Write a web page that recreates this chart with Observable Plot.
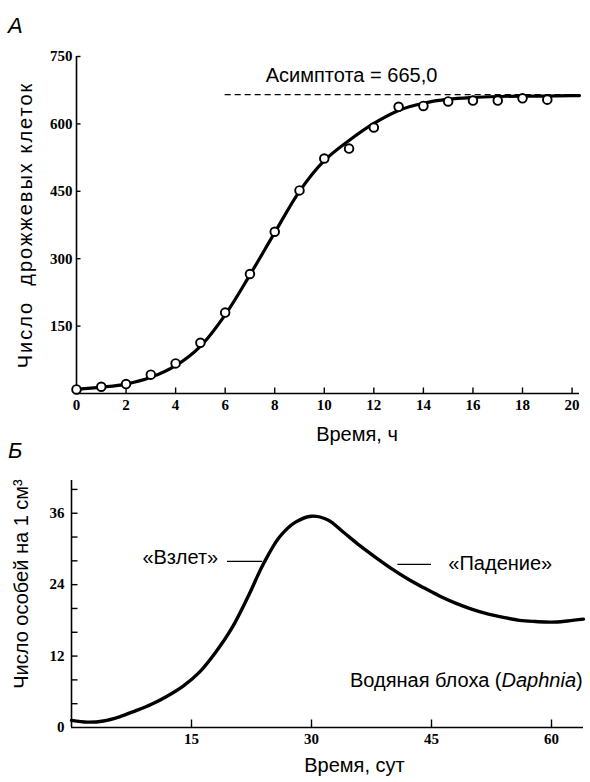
<!DOCTYPE html>
<html><head><meta charset="utf-8">
<script src="https://cdn.jsdelivr.net/npm/d3@7"></script>
<script src="https://cdn.jsdelivr.net/npm/@observablehq/plot@0.6"></script>
<style>
body{margin:0;background:#fff;}
#wrap{position:relative;width:590px;height:782px;overflow:hidden;background:#fff;font-family:"Liberation Sans",Arial,sans-serif;}
.panel{position:absolute;left:0;}
.letter{position:absolute;font-style:italic;font-size:22px;font-family:"Liberation Sans",Arial,sans-serif;color:#000;line-height:1;}
</style></head><body>
<div id="wrap">
 <div id="a" class="panel" style="top:0"></div>
 <div id="b" class="panel" style="top:455px"></div>
 <div class="letter" style="left:8px;top:15px">A</div>
 <div class="letter" style="left:8px;top:440px">Б</div>
</div>
<script>
// ---- Panel A: yeast cells ----
const hoursObs = [0,1,2,3,4,5,6,7,8,9,10,11,12,13,14,15,16,17,18,19];
const cellsObs = [9,15,21,42,67,113,180,266,360,452,523,545,592,638,640,650,652,652,657,654];
const hoursFit = [0,1,2,3,4,5,6,7,8,9,10,11,12,13,14,15,16,17,18,19,20,20.3];
const cellsFit = [9,14,21,36,62,105,175,264,358,450,518,563,601,630,646,655,659,661,662,662,663,663];
const asymptoteValue = 665;
const asymptoteSpan = [6, 20.3];
const asymptoteText = "Асимптота = 665,0";
const hourTicks = [0,2,4,6,8,10,12,14,16,18,20];
const cellTicks = [150,300,450,600,750];
const labelA = {x: "Время, ч", y: "Число\u00a0 дрожжевых клеток"};

// ---- Panel Б: Daphnia ----
const days = [0,2,4,6,8,10,12,14,16,18,20,22,24,26,28,30,32,34,36,38,40,42,44,46,48,50,52,54,56,58,60,62,64];
const density = [1.2,0.9,1.1,1.8,2.8,3.9,5.3,7.0,9.3,12.6,16.6,21.8,27.5,32.0,34.5,35.5,34.9,32.8,30.6,28.6,26.7,25.0,23.5,22.1,20.9,19.9,19.1,18.5,18.0,17.8,17.7,17.9,18.2];
const dayTicks = [15,30,45,60];
const densityTicks = [0,12,24,36];
const densityMinorTicks = [4,8,12,16,20,24,28,32,36,40];
const notesB = [
  {text: "«Взлет»", day: 13.6, value: 28.6},
  {text: "«Падение»", day: 53.6, value: 27.6}
];
const leadersB = [
  {from: 19.5, to: 23.9, value: 27.9},
  {from: 40.8, to: 45.0, value: 27.4}
];
const speciesParts = ["Водяная блоха (", "Daphnia", ")"];
const speciesLabel = {day: 63.9, value: 7.9};
const labelB = {x: "Время, сут", y: "Число особей на 1 см³"};

const tickUp = len => ({draw(ctx){ ctx.moveTo(0,0); ctx.lineTo(0,-len); }});
const tickRight = len => ({draw(ctx){ ctx.moveTo(0,0); ctx.lineTo(len,0); }});
const numFont = {fontFamily: "Liberation Serif", fontWeight: "bold", fontSize: 15};

const obs = hoursObs.map((h,i) => ({h, c: cellsObs[i]}));
const fit = hoursFit.map((h,i) => ({h, c: cellsFit[i]}));

const plotA = Plot.plot({
  width: 590, height: 453,
  marginLeft: 76, marginRight: 11, marginTop: 56, marginBottom: 60,
  style: {fontFamily: "Liberation Sans", background: "white", overflow: "visible"},
  x: {domain: [0, 20.3]},
  y: {domain: [0, 750]},
  marks: [
    Plot.ruleX([0], {stroke: "black", strokeWidth: 1.6}),
    Plot.ruleY([0], {stroke: "black", strokeWidth: 1.6}),
    Plot.dot(hourTicks.slice(1), {x: d => d, frameAnchor: "bottom", symbol: tickUp(6), stroke: "black", strokeWidth: 1.4, fill: "none"}),
    Plot.dot(cellTicks, {y: d => d, frameAnchor: "left", symbol: tickRight(4), stroke: "black", strokeWidth: 1.4, fill: "none"}),
    Plot.axisX({ticks: hourTicks, tickSize: 0, tickPadding: 6, label: null, ...numFont}),
    Plot.axisY({ticks: cellTicks, tickSize: 0, tickPadding: 4, label: null, ...numFont}),
    Plot.ruleY([asymptoteValue], {x1: asymptoteSpan[0], x2: asymptoteSpan[1], stroke: "black", strokeWidth: 1.2, strokeDasharray: "6,4"}),
    Plot.line(fit, {x: "h", y: "c", curve: "catmull-rom", stroke: "black", strokeWidth: 3.2}),
    Plot.dot(obs, {x: "h", y: "c", r: 4.3, fill: "white", stroke: "black", strokeWidth: 1.9}),
    Plot.text([asymptoteText], {x: 11.1, y: 708, fontSize: 20, fill: "black"}),
    Plot.text([labelA.x], {frameAnchor: "bottom", dx: 29, dy: 47, fontSize: 20, fill: "black"}),
    Plot.text([labelA.y], {frameAnchor: "left", textAnchor: "middle", rotate: -90, dx: -51, fontSize: 20, fill: "black"})
  ]
});
document.getElementById("a").appendChild(plotA);
d3.select(plotA).selectAll("text").filter(function(){ return this.textContent === labelA.y; }).attr("letter-spacing", "2px");

const curveB = days.map((d,i) => ({d, v: density[i]}));
const plotB = Plot.plot({
  width: 590, height: 327,
  marginLeft: 71, marginRight: 7, marginTop: 25, marginBottom: 55,
  style: {fontFamily: "Liberation Sans", background: "white", overflow: "visible"},
  x: {domain: [0, 64]},
  y: {domain: [0, 41.5]},
  marks: [
    Plot.ruleX([0], {stroke: "black", strokeWidth: 1.6}),
    Plot.ruleY([0], {stroke: "black", strokeWidth: 1.6}),
    Plot.dot(dayTicks, {x: d => d, frameAnchor: "bottom", symbol: tickUp(8), stroke: "black", strokeWidth: 1.4, fill: "none"}),
    Plot.dot(densityMinorTicks, {y: d => d, frameAnchor: "left", symbol: tickRight(6), stroke: "black", strokeWidth: 1.4, fill: "none"}),
    Plot.axisX({ticks: dayTicks, tickSize: 0, tickPadding: 6, label: null, ...numFont}),
    Plot.axisY({ticks: densityTicks, tickSize: 0, tickPadding: 7, label: null, ...numFont}),
    Plot.line(curveB, {x: "d", y: "v", curve: "catmull-rom", stroke: "black", strokeWidth: 3.4}),
    Plot.ruleY(leadersB, {x1: "from", x2: "to", y: "value", stroke: "black", strokeWidth: 1.2}),
    Plot.text(notesB, {x: "day", y: "value", text: "text", fontSize: 20, fill: "black"}),
    Plot.text([speciesLabel], {x: "day", y: "value", text: () => speciesParts.join(""), textAnchor: "end", fontSize: 20, fill: "black"}),
    Plot.text([labelB.x], {frameAnchor: "bottom", dx: 27, dy: 44, fontSize: 20, fill: "black"}),
    Plot.text([labelB.y], {frameAnchor: "left", textAnchor: "middle", rotate: -90, dx: -50, dy: -20, fontSize: 20, fill: "black"})
  ]
});
document.getElementById("b").appendChild(plotB);
// split species label into upright / italic parts
d3.select(plotB).selectAll("text").filter(function(){ return this.textContent === speciesParts.join(""); }).each(function(){
  const t = d3.select(this);
  t.text(null);
  speciesParts.forEach((p, i) => {
    const ts = t.append("tspan").text(p);
    if (i === 1) ts.attr("font-style", "italic");
  });
});
</script>
</body></html>
